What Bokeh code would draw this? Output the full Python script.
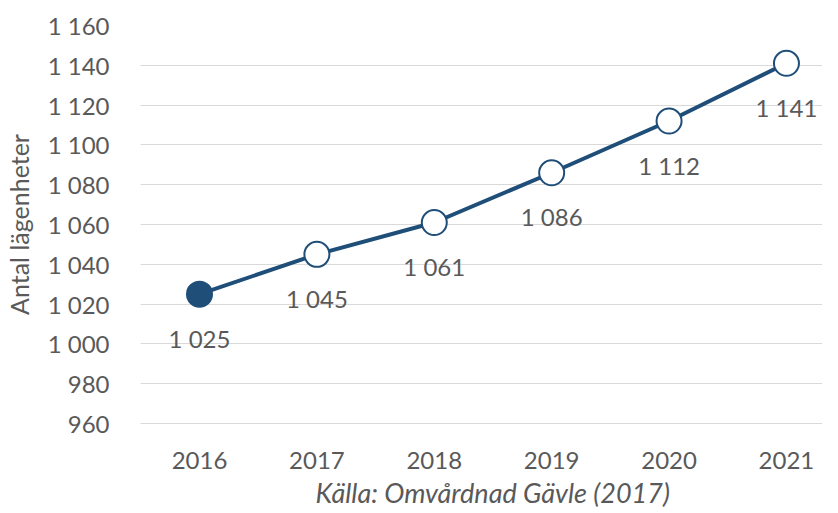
from bokeh.plotting import figure
from bokeh.models import FixedTicker, ColumnDataSource, Title
from bokeh.core.properties import value
from bokeh.embed import file_html
from bokeh.resources import INLINE

years = ["2016", "2017", "2018", "2019", "2020", "2021"]
values = [1025, 1045, 1061, 1086, 1112, 1141]
value_labels = ["1 025", "1 045", "1 061", "1 086", "1 112", "1 141"]
y_ticks = list(range(960, 1161, 20))
y_tick_labels = {t: (f"{t // 1000} {t % 1000:03d}" if t >= 1000 else str(t)) for t in y_ticks}
caption = "Källa: Omvårdnad Gävle (2017)"

FONT = "Lato"
TXT = "#595959"
BLUE = "#1F4E79"
xs = list(range(len(years)))

p = figure(width=822, height=513, output_backend="svg", toolbar_location=None,
           x_range=(-0.5026, 5.307), y_range=(960, 1160),
           min_border_left=140, min_border_right=0, min_border_top=25, min_border_bottom=90)
p.outline_line_color = None
p.background_fill_color = "white"

p.xgrid.visible = False
p.ygrid.ticker = FixedTicker(ticks=y_ticks)
p.ygrid.grid_line_color = "#D9D9D9"
p.ygrid.grid_line_width = 1

p.yaxis.ticker = FixedTicker(ticks=y_ticks)
p.yaxis.major_label_overrides = y_tick_labels
p.yaxis.axis_line_color = None
p.yaxis.major_tick_line_color = None
p.yaxis.minor_tick_line_color = None
p.yaxis.major_label_standoff = 25
p.yaxis.major_label_text_font = FONT
p.yaxis.major_label_text_font_size = "24px"
p.yaxis.major_label_text_color = TXT
p.yaxis.axis_label = "Antal lägenheter"
p.yaxis.axis_label_text_font = FONT
p.yaxis.axis_label_text_font_size = "25px"
p.yaxis.axis_label_text_font_style = "normal"
p.yaxis.axis_label_text_color = TXT
p.yaxis.axis_label_standoff = 11

p.xaxis.ticker = FixedTicker(ticks=xs)
p.xaxis.major_label_overrides = {i: y for i, y in enumerate(years)}
p.xaxis.axis_line_color = "#D9D9D9"
p.xaxis.major_tick_line_color = None
p.xaxis.minor_tick_line_color = None
p.xaxis.major_label_standoff = 22
p.xaxis.major_label_text_font = FONT
p.xaxis.major_label_text_font_size = "24px"
p.xaxis.major_label_text_color = TXT

cap = Title(text=caption, align="left", offset=175, standoff=4,
            text_font=FONT, text_font_size="27px", text_font_style="italic",
            text_color=TXT)
p.add_layout(cap, "below")

src = ColumnDataSource(dict(x=xs, y=values, lab=value_labels,
                            fill=[BLUE] + ["white"] * (len(years) - 1)))
p.line("x", "y", source=src, line_color=BLUE, line_width=4)
p.scatter("x", "y", source=src, size=25, fill_color="fill", line_color=BLUE, line_width=2)
p.text("x", "y", text="lab", source=src, y_offset=44, text_align="center",
       text_baseline="middle", text_font=value(FONT), text_font_size="24px", text_color=TXT)

open("out.html", "w").write(file_html(p, INLINE))
